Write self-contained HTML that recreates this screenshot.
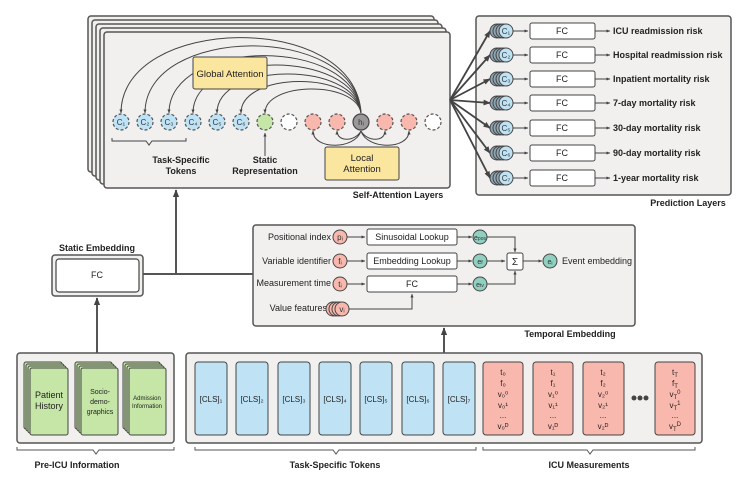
<!DOCTYPE html>
<html><head><meta charset="utf-8"><style>
body{margin:0;background:#fff}
svg{display:block;font-family:"Liberation Sans",sans-serif}
</style></head><body>
<svg width="747" height="480" viewBox="0 0 747 480" xmlns="http://www.w3.org/2000/svg">
<defs>
<marker id="a" viewBox="0 0 10 10" refX="9" refY="5" markerWidth="6" markerHeight="6" orient="auto-start-reverse"><path d="M0,1 L10,5 L0,9 z" fill="#444"/></marker>
<marker id="s" viewBox="0 0 10 10" refX="9" refY="5" markerWidth="4" markerHeight="4" orient="auto-start-reverse"><path d="M0,1 L10,5 L0,9 z" fill="#444"/></marker>
</defs>
<g stroke="#555" stroke-width="1.5" fill="#f2f0ef">
<rect x="88" y="16" width="346" height="156" rx="3"/>
<rect x="92" y="20" width="346" height="156" rx="3"/>
<rect x="96" y="24" width="346" height="156" rx="3"/>
<rect x="100" y="28" width="346" height="156" rx="3"/>
<rect x="104" y="32" width="346" height="156" rx="3"/>
<rect x="476" y="16" width="255" height="179" rx="3"/>
<rect x="52" y="255" width="91" height="41" rx="3"/>
<rect x="253" y="225" width="382" height="101" rx="3"/>
<rect x="17" y="353" width="157" height="90" rx="3"/>
<rect x="186" y="353" width="516" height="90" rx="3"/>
</g>
<g fill="none" stroke="#444" stroke-width="1">
<path d="M361,113 C355,10 121,15 121,113" marker-end="url(#s)"/>
<path d="M361,113 C355,22 145,25 145,113" marker-end="url(#s)"/>
<path d="M361,113 C355,35 169,38 169,113" marker-end="url(#s)"/>
<path d="M361,113 C355,48 193,50 193,113" marker-end="url(#s)"/>
<path d="M361,113 C355,60 217,62 217,113" marker-end="url(#s)"/>
<path d="M361,113 C355,70 241,72 241,113" marker-end="url(#s)"/>
<path d="M361,113 C355,80 265,82 265,113" marker-end="url(#s)"/>
<path d="M361,131 C355,150 313,150 313,131" marker-end="url(#s)"/>
<path d="M361,131 C355,142 337,142 337,131" marker-end="url(#s)"/>
<path d="M361,131 C367,142 385,142 385,131" marker-end="url(#s)"/>
<path d="M361,131 C367,150 409,150 409,131" marker-end="url(#s)"/>
<path d="M112,138 v3 h34 l3,4 l3,-4 h34 v-3"/>
<line x1="265" y1="156" x2="265" y2="133" marker-end="url(#s)"/>
</g>
<rect x="193" y="57" width="74" height="32" rx="2" fill="#fbe69f" stroke="#444"/>
<text x="230" y="77" font-size="9.5" text-anchor="middle" fill="#222">Global Attention</text>
<rect x="325" y="147" width="74" height="33" rx="2" fill="#fbe69f" stroke="#444"/>
<text x="362" y="161" font-size="9.5" text-anchor="middle" fill="#222">Local</text>
<text x="362" y="172" font-size="9.5" text-anchor="middle" fill="#222">Attention</text>
<g stroke="#555" stroke-width="1.2" stroke-dasharray="3,2">
<circle cx="121" cy="122" r="8" fill="#bfe3f5"/><circle cx="145" cy="122" r="8" fill="#bfe3f5"/>
<circle cx="169" cy="122" r="8" fill="#bfe3f5"/><circle cx="193" cy="122" r="8" fill="#bfe3f5"/>
<circle cx="217" cy="122" r="8" fill="#bfe3f5"/><circle cx="241" cy="122" r="8" fill="#bfe3f5"/>
<circle cx="265" cy="122" r="8" fill="#c5e6a6"/><circle cx="289" cy="122" r="8" fill="#fff"/>
<circle cx="313" cy="122" r="8" fill="#f9b8ad"/><circle cx="337" cy="122" r="8" fill="#f9b8ad"/>
<circle cx="385" cy="122" r="8" fill="#f9b8ad"/><circle cx="409" cy="122" r="8" fill="#f9b8ad"/>
<circle cx="433" cy="122" r="8" fill="#fff"/>
</g>
<circle cx="361" cy="122" r="8" fill="#999" stroke="#444" stroke-width="1.2"/>
<g font-size="8" fill="#333" text-anchor="middle">
<text x="121" y="125">C₁</text><text x="145" y="125">C₂</text><text x="169" y="125">C₃</text><text x="193" y="125">C₄</text><text x="217" y="125">C₅</text><text x="241" y="125">C₆</text><text x="361" y="125">hᵢ</text>
</g>
<g font-size="9" font-weight="bold" fill="#222" text-anchor="middle">
<text x="181" y="163">Task-Specific</text><text x="181" y="174">Tokens</text>
<text x="265" y="163">Static</text><text x="265" y="174">Representation</text>
<text x="398" y="198">Self-Attention Layers</text>
<text x="688" y="206">Prediction Layers</text>
<text x="97" y="251">Static Embedding</text>
<text x="570" y="337">Temporal Embedding</text>
<text x="77" y="468">Pre-ICU Information</text>
<text x="335" y="468">Task-Specific Tokens</text>
<text x="589" y="468">ICU Measurements</text>
</g>
<g stroke="#444" stroke-width="1.8" fill="none">
<line x1="450" y1="100" x2="490" y2="31" marker-end="url(#s)"/>
<line x1="450" y1="100" x2="490" y2="55" marker-end="url(#s)"/>
<line x1="450" y1="100" x2="490" y2="79" marker-end="url(#s)"/>
<line x1="450" y1="100" x2="490" y2="103" marker-end="url(#s)"/>
<line x1="450" y1="100" x2="490" y2="128" marker-end="url(#s)"/>
<line x1="450" y1="100" x2="490" y2="153" marker-end="url(#s)"/>
<line x1="450" y1="100" x2="490" y2="178" marker-end="url(#s)"/>
</g>
<g font-size="9">
<g transform="translate(0,31)"><circle cx="497" r="7" fill="#8fa6b3" stroke="#444"/><circle cx="500" r="7" fill="#8fa6b3" stroke="#444"/><circle cx="503" r="7" fill="#8fa6b3" stroke="#444"/><circle cx="506" r="7" fill="#bfe3f5" stroke="#444"/><text x="506" y="3" font-size="8" text-anchor="middle" fill="#333">C₁</text><line x1="513" x2="528" y1="0" y2="0" stroke="#444" marker-end="url(#s)"/><rect x="530" y="-8" width="65" height="16" rx="2" fill="#fff" stroke="#444"/><text x="562" y="3" text-anchor="middle" fill="#222">FC</text><line x1="595" x2="610" y1="0" y2="0" stroke="#444" marker-end="url(#s)"/><text x="613" y="3" font-weight="bold" fill="#222">ICU readmission risk</text></g>
<g transform="translate(0,55)"><circle cx="497" r="7" fill="#8fa6b3" stroke="#444"/><circle cx="500" r="7" fill="#8fa6b3" stroke="#444"/><circle cx="503" r="7" fill="#8fa6b3" stroke="#444"/><circle cx="506" r="7" fill="#bfe3f5" stroke="#444"/><text x="506" y="3" font-size="8" text-anchor="middle" fill="#333">C₂</text><line x1="513" x2="528" y1="0" y2="0" stroke="#444" marker-end="url(#s)"/><rect x="530" y="-8" width="65" height="16" rx="2" fill="#fff" stroke="#444"/><text x="562" y="3" text-anchor="middle" fill="#222">FC</text><line x1="595" x2="610" y1="0" y2="0" stroke="#444" marker-end="url(#s)"/><text x="613" y="3" font-weight="bold" fill="#222">Hospital readmission risk</text></g>
<g transform="translate(0,79)"><circle cx="497" r="7" fill="#8fa6b3" stroke="#444"/><circle cx="500" r="7" fill="#8fa6b3" stroke="#444"/><circle cx="503" r="7" fill="#8fa6b3" stroke="#444"/><circle cx="506" r="7" fill="#bfe3f5" stroke="#444"/><text x="506" y="3" font-size="8" text-anchor="middle" fill="#333">C₃</text><line x1="513" x2="528" y1="0" y2="0" stroke="#444" marker-end="url(#s)"/><rect x="530" y="-8" width="65" height="16" rx="2" fill="#fff" stroke="#444"/><text x="562" y="3" text-anchor="middle" fill="#222">FC</text><line x1="595" x2="610" y1="0" y2="0" stroke="#444" marker-end="url(#s)"/><text x="613" y="3" font-weight="bold" fill="#222">Inpatient mortality risk</text></g>
<g transform="translate(0,103)"><circle cx="497" r="7" fill="#8fa6b3" stroke="#444"/><circle cx="500" r="7" fill="#8fa6b3" stroke="#444"/><circle cx="503" r="7" fill="#8fa6b3" stroke="#444"/><circle cx="506" r="7" fill="#bfe3f5" stroke="#444"/><text x="506" y="3" font-size="8" text-anchor="middle" fill="#333">C₄</text><line x1="513" x2="528" y1="0" y2="0" stroke="#444" marker-end="url(#s)"/><rect x="530" y="-8" width="65" height="16" rx="2" fill="#fff" stroke="#444"/><text x="562" y="3" text-anchor="middle" fill="#222">FC</text><line x1="595" x2="610" y1="0" y2="0" stroke="#444" marker-end="url(#s)"/><text x="613" y="3" font-weight="bold" fill="#222">7-day mortality risk</text></g>
<g transform="translate(0,128)"><circle cx="497" r="7" fill="#8fa6b3" stroke="#444"/><circle cx="500" r="7" fill="#8fa6b3" stroke="#444"/><circle cx="503" r="7" fill="#8fa6b3" stroke="#444"/><circle cx="506" r="7" fill="#bfe3f5" stroke="#444"/><text x="506" y="3" font-size="8" text-anchor="middle" fill="#333">C₅</text><line x1="513" x2="528" y1="0" y2="0" stroke="#444" marker-end="url(#s)"/><rect x="530" y="-8" width="65" height="16" rx="2" fill="#fff" stroke="#444"/><text x="562" y="3" text-anchor="middle" fill="#222">FC</text><line x1="595" x2="610" y1="0" y2="0" stroke="#444" marker-end="url(#s)"/><text x="613" y="3" font-weight="bold" fill="#222">30-day mortality risk</text></g>
<g transform="translate(0,153)"><circle cx="497" r="7" fill="#8fa6b3" stroke="#444"/><circle cx="500" r="7" fill="#8fa6b3" stroke="#444"/><circle cx="503" r="7" fill="#8fa6b3" stroke="#444"/><circle cx="506" r="7" fill="#bfe3f5" stroke="#444"/><text x="506" y="3" font-size="8" text-anchor="middle" fill="#333">C₆</text><line x1="513" x2="528" y1="0" y2="0" stroke="#444" marker-end="url(#s)"/><rect x="530" y="-8" width="65" height="16" rx="2" fill="#fff" stroke="#444"/><text x="562" y="3" text-anchor="middle" fill="#222">FC</text><line x1="595" x2="610" y1="0" y2="0" stroke="#444" marker-end="url(#s)"/><text x="613" y="3" font-weight="bold" fill="#222">90-day mortality risk</text></g>
<g transform="translate(0,178)"><circle cx="497" r="7" fill="#8fa6b3" stroke="#444"/><circle cx="500" r="7" fill="#8fa6b3" stroke="#444"/><circle cx="503" r="7" fill="#8fa6b3" stroke="#444"/><circle cx="506" r="7" fill="#bfe3f5" stroke="#444"/><text x="506" y="3" font-size="8" text-anchor="middle" fill="#333">C₇</text><line x1="513" x2="528" y1="0" y2="0" stroke="#444" marker-end="url(#s)"/><rect x="530" y="-8" width="65" height="16" rx="2" fill="#fff" stroke="#444"/><text x="562" y="3" text-anchor="middle" fill="#222">FC</text><line x1="595" x2="610" y1="0" y2="0" stroke="#444" marker-end="url(#s)"/><text x="613" y="3" font-weight="bold" fill="#222">1-year mortality risk</text></g>
</g>
<rect x="56" y="259" width="83" height="33" rx="3" fill="#fff" stroke="#444" stroke-width="1.2"/>
<text x="97" y="278" font-size="9" text-anchor="middle" fill="#222">FC</text>
<g stroke="#555" stroke-width="2" fill="none">
<line x1="97" y1="353" x2="97" y2="298" marker-end="url(#s)"/>
<line x1="143" y1="274" x2="253" y2="274"/>
<line x1="176" y1="274" x2="176" y2="190" marker-end="url(#s)"/>
<line x1="444" y1="353" x2="444" y2="328" marker-end="url(#s)"/>
</g>
<g font-size="9" fill="#222">
<text x="331" y="240" text-anchor="end">Positional index</text>
<text x="331" y="264" text-anchor="end">Variable identifier</text>
<text x="331" y="286" text-anchor="end">Measurement time</text>
<text x="327" y="311" text-anchor="end">Value features</text>
<text x="562" y="264">Event embedding</text>
</g>
<g stroke="#444" stroke-width="1">
<circle cx="333" cy="309" r="7" fill="#f9b8ad"/><circle cx="336" cy="309" r="7" fill="#f9b8ad"/><circle cx="339" cy="309" r="7" fill="#f9b8ad"/><circle cx="342" cy="309" r="7" fill="#f9b8ad"/>
<circle cx="340" cy="237" r="7" fill="#f9b8ad"/><circle cx="340" cy="261" r="7" fill="#f9b8ad"/><circle cx="340" cy="284" r="7" fill="#f9b8ad"/>
<circle cx="480" cy="237" r="7" fill="#8fd0c0"/><circle cx="480" cy="261" r="7" fill="#8fd0c0"/><circle cx="480" cy="284" r="7" fill="#8fd0c0"/><circle cx="550" cy="261" r="7" fill="#8fd0c0"/>
<rect x="367" y="229" width="90" height="16" rx="2" fill="#fff"/>
<rect x="367" y="253" width="90" height="16" rx="2" fill="#fff"/>
<rect x="367" y="276" width="90" height="16" rx="2" fill="#fff"/>
<rect x="507" y="253" width="16" height="17" rx="2" fill="#fff"/>
<g fill="none" stroke="#444">
<line x1="347" y1="237" x2="365" y2="237" marker-end="url(#s)"/>
<line x1="347" y1="261" x2="365" y2="261" marker-end="url(#s)"/>
<line x1="347" y1="284" x2="365" y2="284" marker-end="url(#s)"/>
<line x1="457" y1="237" x2="472" y2="237" marker-end="url(#s)"/>
<line x1="457" y1="261" x2="472" y2="261" marker-end="url(#s)"/>
<line x1="457" y1="284" x2="472" y2="284" marker-end="url(#s)"/>
<polyline points="349,309 412,309 412,294" marker-end="url(#s)"/>
<polyline points="487,237 515,237 515,252" marker-end="url(#s)"/>
<polyline points="487,284 515,284 515,271" marker-end="url(#s)"/>
<line x1="487" y1="261" x2="505" y2="261" marker-end="url(#s)"/>
<line x1="523" y1="261" x2="542" y2="261" marker-end="url(#s)"/>
</g>
</g>
<g font-size="9" fill="#222" text-anchor="middle">
<text x="412" y="240">Sinusoidal Lookup</text><text x="412" y="264">Embedding Lookup</text><text x="412" y="287">FC</text>
<text x="515" y="265" font-size="10">Σ</text>
</g>
<g font-size="8" fill="#333" text-anchor="middle">
<text x="340" y="240">pᵢ</text><text x="340" y="264">fᵢ</text><text x="340" y="287">tᵢ</text><text x="342" y="312">vᵢ</text>
<text x="480" y="240" font-size="7">e<tspan font-size="5">pos</tspan></text><text x="480" y="264" font-size="7">e<tspan font-size="5">f</tspan></text><text x="480" y="287" font-size="7">e<tspan font-size="5">tv</tspan></text><text x="550" y="264" font-size="7">eᵢ</text>
</g>
<g stroke="#444" stroke-width="1" fill="#c5e6a6">
<rect x="24" y="362" width="38" height="67" rx="2"/><rect x="26" y="364" width="38" height="67" rx="2"/><rect x="28" y="366" width="38" height="67" rx="2"/><rect x="30" y="368" width="38" height="67" rx="2"/>
<rect x="75" y="362" width="37" height="67" rx="2"/><rect x="77" y="364" width="37" height="67" rx="2"/><rect x="79" y="366" width="37" height="67" rx="2"/><rect x="81" y="368" width="37" height="67" rx="2"/>
<rect x="123" y="362" width="37" height="67" rx="2"/><rect x="125" y="364" width="37" height="67" rx="2"/><rect x="127" y="366" width="37" height="67" rx="2"/><rect x="129" y="368" width="37" height="67" rx="2"/>
</g>
<g fill="#222" text-anchor="middle">
<text x="49" y="398" font-size="9">Patient</text><text x="49" y="409" font-size="9">History</text>
<text x="100" y="394" font-size="7">Socio-</text><text x="100" y="404" font-size="7">demo-</text><text x="100" y="414" font-size="7">graphics</text>
<text x="147" y="400" font-size="6">Admission</text><text x="147" y="408" font-size="6">Information</text>
</g>
<g stroke="#444" stroke-width="1" fill="#bfe3f5">
<rect x="195" y="362" width="32" height="73" rx="3"/><rect x="236" y="362" width="32" height="73" rx="3"/><rect x="278" y="362" width="32" height="73" rx="3"/><rect x="319" y="362" width="32" height="73" rx="3"/><rect x="360" y="362" width="32" height="73" rx="3"/><rect x="402" y="362" width="32" height="73" rx="3"/><rect x="443" y="362" width="32" height="73" rx="3"/>
</g>
<g font-size="8" fill="#222" text-anchor="middle">
<text x="211" y="402">[CLS]₁</text><text x="252" y="402">[CLS]₂</text><text x="294" y="402">[CLS]₃</text><text x="335" y="402">[CLS]₄</text><text x="376" y="402">[CLS]₅</text><text x="418" y="402">[CLS]₆</text><text x="459" y="402">[CLS]₇</text>
</g>
<g stroke="#444" stroke-width="1" fill="#f9b8ad">
<rect x="483" y="362" width="40" height="73" rx="3"/><rect x="533" y="362" width="40" height="73" rx="3"/><rect x="583" y="362" width="41" height="73" rx="3"/><rect x="655" y="362" width="40" height="73" rx="3"/>
</g>
<g font-size="8" fill="#222" text-anchor="middle">
<g transform="translate(503,0)"><text y="375">t₀</text><text y="386">f₀</text><text y="397">v₀⁰</text><text y="408">v₀¹</text><text y="418">...</text><text y="429">v₀ᴰ</text></g>
<g transform="translate(553,0)"><text y="375">t₁</text><text y="386">f₁</text><text y="397">v₁⁰</text><text y="408">v₁¹</text><text y="418">...</text><text y="429">v₁ᴰ</text></g>
<g transform="translate(603,0)"><text y="375">t₂</text><text y="386">f₂</text><text y="397">v₂⁰</text><text y="408">v₂¹</text><text y="418">...</text><text y="429">v₂ᴰ</text></g>
<g transform="translate(675,0)"><text y="375">t<tspan font-size="6" dy="2">T</tspan></text><text y="386">f<tspan font-size="6" dy="2">T</tspan></text><text y="397">v<tspan font-size="6" dy="2">T</tspan><tspan font-size="6" dy="-5">0</tspan></text><text y="408">v<tspan font-size="6" dy="2">T</tspan><tspan font-size="6" dy="-5">1</tspan></text><text y="418">...</text><text y="429">v<tspan font-size="6" dy="2">T</tspan><tspan font-size="6" dy="-5">D</tspan></text></g>
</g>
<g fill="#444"><circle cx="634" cy="398" r="2.5"/><circle cx="640" cy="398" r="2.5"/><circle cx="646" cy="398" r="2.5"/></g>
<g fill="none" stroke="#555" stroke-width="1">
<path d="M17,447 v3 h76 l3,4 l3,-4 h75 v-3"/>
<path d="M195,447 v3 h138 l3,4 l3,-4 h137 v-3"/>
<path d="M483,447 v3 h104 l3,4 l3,-4 h102 v-3"/>
</g>
</svg>
</body></html>
